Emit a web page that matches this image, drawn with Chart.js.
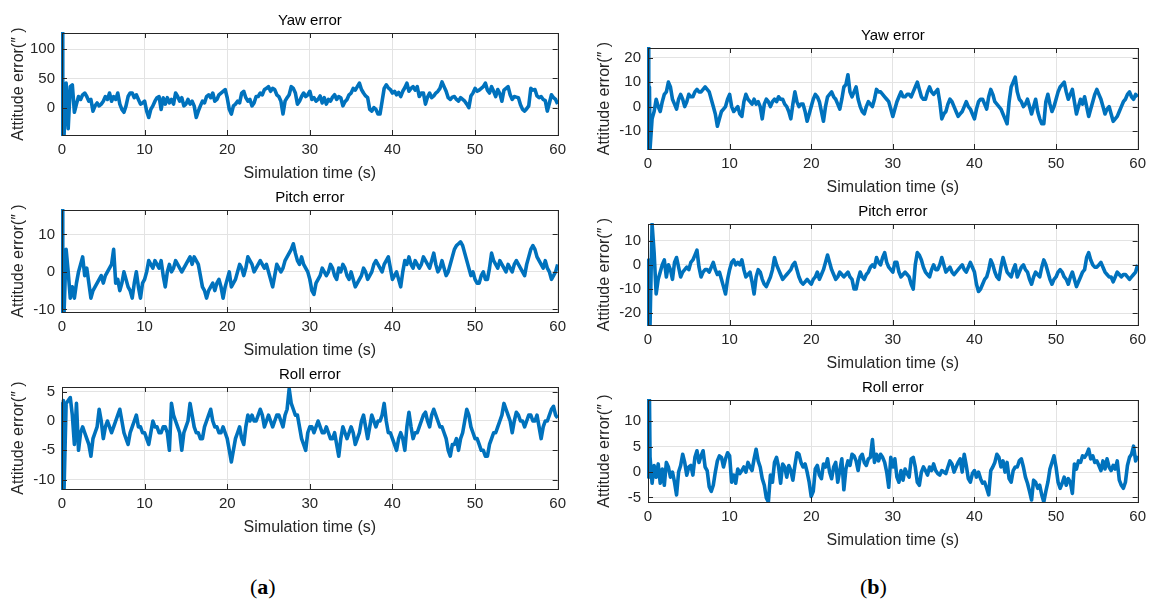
<!DOCTYPE html>
<html lang="en">
<head>
<meta charset="UTF-8">
<title>Attitude errors</title>
<script src="https://cdn.jsdelivr.net/npm/chart.js"></script>
<style>
  body { margin: 0; background: #fff; width: 1155px; height: 602px; position: relative; overflow: hidden; }
  canvas { position: absolute; }
  .cap { position: absolute; top: 574px; font-family: "Liberation Serif", "DejaVu Serif", serif; font-size: 22px; color: #000; }
</style>
</head>
<body>
<canvas id="yawA"></canvas>
<canvas id="pitchA"></canvas>
<canvas id="rollA"></canvas>
<canvas id="yawB"></canvas>
<canvas id="pitchB"></canvas>
<canvas id="rollB"></canvas>
<div class="cap" style="left:250px">(<b>a</b>)</div>
<div class="cap" style="left:860px">(<b>b</b>)</div>
<script>
// time axis: start-up points [t, value] for t < 0.25 s, then one sample every DT from T0 (20 per row = 5 s)
const T0 = 0.25, DT = 0.25;
const xTicks = [0, 10, 20, 30, 40, 50, 60];

// (a) yaw error
const yawAStart = [[0, -20], [0.06, 128], [0.12, -47], [0.18, 40]];
const yawAVals = [
  -47, 42, -36, 36, 39, -8, 6, 19, 14, 22, 25, 19, 11, 14, -6, 3, 8, 3, 6, 11,
  19, 14, 25, 11, 19, 14, 25, 6, -3, -8, 3, 19, 25, 25, 17, 22, 14, 6, 8, 11,
  -6, -17, -3, 3, 11, 17, 19, -3, 17, 6, 17, 8, 14, 6, 25, 19, 11, 17, 3, 6,
  14, 6, 11, 3, -17, -6, 3, 11, 8, 19, 22, 17, 25, 11, 14, 22, 25, 28, 31, 17,
  -3, -11, 3, 6, 11, 8, 25, 28, 17, 11, 14, 3, 8, 19, 19, 25, 22, 31, 33, 36,
  28, 33, 31, 22, 19, 11, -11, 11, 17, 22, 36, 33, 25, 6, 11, 19, 25, 19, 22, 28,
  14, 17, 11, 14, 20, 8, 17, 6, 14, 11, 18, 22, 14, 19, 17, 3, 10, 14, 22, 25,
  33, 30, 36, 42, 31, 25, 20, 17, -3, -6, 0, -3, -11, -11, 11, 33, 39, 34, 31, 25,
  28, 22, 26, 19, 28, 34, 42, 28, 33, 36, 30, 36, 19, 25, 25, 6, 18, 25, 17, 20,
  25, 28, 33, 44, 36, 28, 17, 14, 18, 19, 14, 11, 17, 14, 11, 6, 0, 20, 25, 33,
  28, 30, 33, 36, 42, 30, 25, 36, 28, 19, 31, 24, 11, 30, 33, 36, 22, 14, 19, 18,
  17, 5, -3, -6, -2, 3, 33, 30, 31, 20, 17, 19, 14, 12, -6, 8, 22, 17, 14, 6
];
const yawATicks = [0, 50, 100];

// (a) pitch error
const pitchAStart = [[0, 0], [0.06, 16.5], [0.12, -10.7], [0.18, 4]];
const pitchAVals = [
  -10.7, 6, 0, -7, -4, -7, -3, 0, 2, 4, -1, 1, -3, -7, -5, -4, -3, -2, -1, -3,
  -1, 0, 1, 2, 6, -3, -2, -5, -3, 0, -2, -4, -5, -7, -3, 0, -4, -7, -3, -2,
  0, 3, 2, 1, 3, 2, 1, 3, -1, -4, 0, 2, 0, 1, 3, 2, 1, 0, 1, 2,
  3, 4, 2, 4, 3, 2, -1, -4, -5, -7, -5, -4, -3, -5, -3, -2, -4, -7, -4, -2,
  0, -4, -3, -2, 0, 2, 1, -1, 1, 4, 3, 2, 0, 1, 2, 3, 2, 1, 2, 0,
  -2, -4, -1, 2, 1, 0, 1, 3, 4, 5, 6, 7.5, 5, 3, 2, 4, 2, 1, 0, -2,
  -5, -6, -3, -2, -1, 1, 0, -1, 0, 2, 1, -1, -2, 1, 0, 2, 1, -1, -2, 0,
  -2, -4, -3, -2, -1, 1, 0, -2, -1, 0, 2, 3, 2, 1, 0, 2, 3, 4, 1, -2,
  -1, 0, -2, -4, 0, 3, 2, 4, 2, 1, 3, 2, 1, 2, 4, 3, 2, 1, 3, 5,
  2, 0, 1, 3, 1, -1, 0, 2, 4, 6, 7, 7.5, 8, 7, 5, 3, 1, -1, 0, -2,
  -3, -3, -1, 0, -2, -2, 1, 5, 3, 2, 1, 3, 2, 1, 0, 2, 1, 0, 2, 3,
  2, 1, 0, -1, 2, 4, 6, 7, 6, 4, 3, 2, 1, 3, 1, 0, -2, -1, 0, 2
];
const pitchATicks = [-10, 0, 10];

// (a) roll error
const rollAStart = [[0, 0], [0.05, 3], [0.1, -11.6], [0.17, 3.5]];
const rollAVals = [
  -11.6, 3, 3.5, 4, 1, -4, 3, -5, -2, -1, -2, -3, -4, -6, -3, -2, -1, 2, 0, -3,
  -1, 0, -1, -2, -1, 0, 1, 2, 0, -2, -3, -4, -2, -1, 0, 1, -1, -1, -2, -2,
  -3, -4, -2, 0, -1, -1, -2, -2, -1, -1, -2, -5, 3, 1, 0, -1, -2, -5, -2, -1,
  0, 3, 1, -1, -2, -2, -3, -3, -1, 0, 1, 2, 0, -1, -1, -2, -2, -1, -2, -3,
  -5, -7, -5, -3, -2, -1, -3, -4, -1, 1, 0, 1, 0, 0, 1, 2, 1, -1, 0, 1,
  0, -1, 0, 1, 1, 0, -1, 1, 2, 5.5, 3, 2, 1, 1, -1, -3, -4, -5, -2, -1,
  -1, -2, -1, 0, -1, -2, -2, -1, -2, -3, -3, -2, -4, -6, -3, -1, -2, -3, -2, -1,
  -2, -4, -3, -2, 0, 1, -1, -3, -1, 1, 0, -1, 0, 0, 1, 3, 0, -2, -2, -3,
  -4, -5, -3, -2, -3, -5, -1, 1.5, -1, -3, -2, -2, -1, 0, 1, 1.5, 0, -1, 1, 2,
  1, 0, -1, -1, -2, -3, -5, -6, -4, -4, -3, -5, -3, -2, 0, 2, 1, -1, -2, -3,
  -3, -4, -5, -5, -6, -6, -4, -3, -2, -2, -1, 0, 1, 3, 2, 1, 0, -2, 0, 1.5,
  1, 0, 0, -1, 0, 1, 1, 0, 0, 1, -1, -3, -1, 0, 0, 1, 2, 2.5, 1, 0.5
];
const rollATicks = [-10, -5, 0, 5];

// (b) yaw error
const yawBStart = [[0, 0], [0.06, 23.9], [0.12, -17.3], [0.18, 8]];
const yawBVals = [
  -17.3, -5, -2, 3, 0, -2, 2, 5, 6, 10, 8, 3, 1, -1, 3, 5, 3, 0, 2, 5,
  4, 4, 6, 7, 6, 6, 7, 8, 7, 6, 3, 0, -3, -8, -5, -2, -1, 0, 3, 5,
  0, -2, -1, 0, -3, -4, 2, 5, 3, 2, 1, 3, 1, 2, 0, -5, 1, 3, 2, 0,
  2, 3, 2, 4, 3, 3, 1, 0, -2, -5, 1, 6, 2, 0, 1, 1, -2, -6, -3, 0,
  3, 5, 4, 2, -2, -6, 0, 4, 5, 6, 4, 3, 1, -1, 3, 8, 9, 13, 6, 4,
  6, 8, 3, 0, -2, -3, 0, 2, 1, 0, 3, 7, 6, 6, 5, 4, 3, 2, -1, -4,
  -1, 2, 4, 6, 4, 4, 5, 5, 4, 6, 8, 10, 7, 4, 3, 3, 6, 8, 6, 5,
  6, 7, 2, -5, -3, -2, 1, 3, 2, 0, -2, -4, -3, -2, 0, 2, 0, -1, -3, -5,
  -1, 2, 3, 3, 1, -1, 4, 7, 5, 2, 1, 0, -1, -3, -5, -7, 2, 8, 10, 12,
  6, 3, 2, 0, 1, 3, 0, -3, 0, 3, -2, -5, -7, -7, 2, 5, 1, -2, 0, 3,
  6, 8, 9, 10, 6, 3, 5, 7, 2, -3, 0, 3, 1, 4, 0, -4, -1, 2, 5, 7,
  5, 3, 0, -3, -1, 0, -3, -6, -5, -4, -2, 0, 2, 3, 5, 6, 4, 3, 5, 4
];
const yawBTicks = [-10, 0, 10, 20];

// (b) pitch error
const pitchBStart = [[0, 2], [0.06, -24.8], [0.12, 0], [0.18, -24.8]];
const pitchBVals = [
  -24.8, 16.8, 5, -12, -6, -3, 0, 2, -5, 0, -2, -6, 1, 3, -1, -5, -3, -2, -1, -2,
  1, 2, 4, 6, -1, -5, -3, -2, -2, -3, -1, 1, -2, -4, -3, -6, -9, -12, -6, -2,
  1, 2, 0, 1, 0, 2, -2, -5, -4, -3, -7, -12, -5, -2, -3, -6, -8, -9, -7, -5,
  -2, 3, 0, -2, -4, -6, -5, -4, -3, -2, 0, 1, -2, -5, -7, -8, -7, -6, -7, -8,
  -6, -5, -3, -6, -4, -2, 1, 4, 1, -2, -4, -6, -5, -3, -4, -5, -4, -3, -5, -6,
  -10, -10, -6, -3, -5, -6, -4, -3, -1, 0, -1, 3, 1, 0, 3, 5, 1, -1, -2, -3,
  1, 1, -3, -5, -4, -3, -4, -5, -8, -10, 0, 5, 4, 2, -1, -3, -4, -5, -2, 0,
  -2, -2, 0, 3, 0, -3, -2, -1, -3, -4, -3, -2, -1, 0, -2, -3, -1, 1, -1, -3,
  -8, -11, -10, -8, -6, -5, -2, 2, 0, -3, -5, -6, -1, 3, 0, -3, -4, -5, -2, 0,
  -5, -3, -1, 0, -2, -3, -6, -8, -5, -3, -4, -5, -1, 2, 0, -3, -6, -8, -6, -5,
  -3, -2, -3, -5, -6, -8, -5, -3, -6, -9, -7, -5, -3, -2, 3, 5, 2, 0, -1, -1,
  0, 1, -1, -3, -4, -5, -5, -7, -5, -3, -4, -5, -4, -4, -5, -6, -5, -4, -3, 0
];
const pitchBTicks = [-20, -10, 0, 10];

// (b) roll error
const rollBStart = [[0, 0], [0.06, 14.2], [0.12, -1], [0.18, 14.2]];
const rollBVals = [
  3, -2.2, 1.3, -1, 1.6, -2.2, 0.6, -2.6, 1.9, 1, -1, 0, -2, -4.5, 0, 1.3, 3.5, 1.9, -0.6, 1,
  1.3, -0.6, 2.9, 4.2, 1.9, 3.2, 4.2, 1, 0.3, -2.9, -3.8, -2.6, 0, 2.2, 3.2, 2.9, 1, 2.6, 3.8, 3.2,
  -2, -0.6, -2.2, 0.6, -0.3, 0.3, 1, 0, 1.9, 1, 0.3, 2.6, 4.5, 2.2, 1, -1.3, -2.6, -5.1, -5.9, -0.6,
  -2, 1.9, 2.9, 1, -2.2, 1.6, 1, -1, 1.3, 0.3, -1.6, 1.3, 3.8, 3.5, 1.9, 1, 1.6, 0, -2, -4.8,
  -3.8, 0.6, 1.3, -0.6, -1.3, 1.6, 1, 2.6, 0, -1.3, 1, 1.9, -2, 0.3, 2.6, -3.5, 0.6, 2.2, 1.3, 3.5,
  3.2, 2.2, 0.3, 2.9, 3.5, 1.9, 1.3, 2.6, 2.9, 6.4, 1.9, 3.5, 2.2, 3.5, 2.9, 1.9, 0, -3, 2.9, 1,
  2.6, -1, -2, 0.3, -1.6, 0.6, -0.3, -1, 2.6, 2.9, 1, -2, -2.6, 0, 1, 0.3, -0.6, 1, 0.3, 1.6,
  0.3, -0.3, -0.6, 0.3, 0, -0.3, 1, 2.2, 1.6, 0, 1, 1.9, 2.6, 0, 3.5, 1.3, -1.3, -2, -0.3, 0.3,
  -1, 0, -1.3, -2.2, -2, -3.2, -4.5, 0.3, 1, 1.9, 3.5, 2.9, 1, 2.2, 0, 1.9, -1.3, -2, 0.3, 1,
  1, 2.2, 2.6, 1, -1, -2.2, -3.8, -5.5, -1.6, -2, -3.2, -2.6, -4.5, -5.9, -3.8, -2, 0.6, 1.9, 3.2, 1,
  -2, -3.2, -2.2, -1, -2.6, -1.3, -2, -4.2, 1.6, 0.6, 2.2, 1.9, 3.2, 2.9, 3.5, 4.5, 2.6, 3.2, 1.9, 2.2,
  1.3, 0.3, 2.2, 0.6, 2.6, 1, 0.3, 1.3, 0.6, 2.2, -1.6, -2.6, -3.2, -2, 1.3, 2.9, 3.5, 5.1, 2.2, 3.2
];
const rollBTicks = [-5, 0, 5, 10];

const panels = [
  { id: 'yawA', title: 'Yaw error', start: yawAStart, vals: yawAVals, ticks: yawATicks, min: -47, max: 128, left: 0, top: 12, width: 572, height: 171 },
  { id: 'pitchA', title: 'Pitch error', start: pitchAStart, vals: pitchAVals, ticks: pitchATicks, min: -10.7, max: 16.5, left: 0, top: 189, width: 572, height: 171 },
  { id: 'rollA', title: 'Roll error', start: rollAStart, vals: rollAVals, ticks: rollATicks, min: -11.6, max: 5.8, left: 0, top: 366, width: 572, height: 171 },
  { id: 'yawB', title: 'Yaw error', start: yawBStart, vals: yawBVals, ticks: yawBTicks, min: -17.3, max: 23.9, left: 586, top: 27, width: 566, height: 170 },
  { id: 'pitchB', title: 'Pitch error', start: pitchBStart, vals: pitchBVals, ticks: pitchBTicks, min: -24.8, max: 16.8, left: 586, top: 203, width: 566, height: 170 },
  { id: 'rollB', title: 'Roll error', start: rollBStart, vals: rollBVals, ticks: rollBTicks, min: -5.9, max: 14.2, left: 586, top: 379, width: 566, height: 171 }
];

const FONT = 'Arial, "Liberation Sans", Helvetica, sans-serif';
const INK = '#262626';

// axes box with inward tick marks, drawn over the data like MATLAB does
const boxPlugin = {
  id: 'box',
  afterDatasetsDraw(chart) {
    const { ctx, chartArea: a, scales } = chart;
    ctx.save();
    ctx.strokeStyle = INK;
    ctx.lineWidth = 1;
    ctx.beginPath();
    scales.y.ticks.forEach(t => {
      const y = Math.round(scales.y.getPixelForValue(t.value)) + 0.5;
      ctx.moveTo(a.left, y); ctx.lineTo(a.left + 5, y);
      ctx.moveTo(a.right, y); ctx.lineTo(a.right - 5, y);
    });
    scales.x.ticks.forEach(t => {
      const x = Math.round(scales.x.getPixelForValue(t.value)) + 0.5;
      ctx.moveTo(x, a.bottom); ctx.lineTo(x, a.bottom - 5);
      ctx.moveTo(x, a.top); ctx.lineTo(x, a.top + 5);
    });
    ctx.stroke();
    ctx.strokeRect(Math.round(a.left) + 0.5, Math.round(a.top) + 0.5, Math.round(a.right - a.left), Math.round(a.bottom - a.top));
    ctx.restore();
  }
};

panels.forEach(p => {
  const cv = document.getElementById(p.id);
  cv.width = p.width;
  cv.height = p.height;
  cv.style.left = p.left + 'px';
  cv.style.top = p.top + 'px';

  const pts = p.start.map(([t, v]) => ({ x: t, y: v }))
    .concat(p.vals.map((v, i) => ({ x: T0 + i * DT, y: v })));

  new Chart(cv, {
    type: 'line',
    data: {
      datasets: [{
        data: pts,
        borderColor: '#0072BD',
        borderWidth: 3.6,
        borderJoinStyle: 'round',
        pointRadius: 0,
        tension: 0,
        clip: 1
      }]
    },
    options: {
      responsive: false,
      animation: false,
      devicePixelRatio: 1,
      layout: { padding: { left: 0, right: 12, top: 0, bottom: 0 } },
      plugins: {
        legend: { display: false },
        tooltip: { enabled: false },
        title: {
          display: true,
          text: p.title,
          fullSize: false,
          color: '#000',
          font: { family: FONT, size: 15, weight: 'normal' },
          padding: { top: 0, bottom: 3 }
        }
      },
      scales: {
        x: {
          type: 'linear',
          min: 0,
          max: 60,
          afterBuildTicks: s => { s.ticks = xTicks.map(v => ({ value: v })); },
          afterFit: s => { s.height = 48; },
          grid: { color: '#e3e3e3', drawTicks: false },
          border: { display: false },
          ticks: { color: INK, padding: 6, maxRotation: 0, font: { family: FONT, size: 15 }, callback: v => String(v) },
          title: { display: true, text: 'Simulation time (s)', color: INK, padding: { top: 0, bottom: 0 }, font: { family: FONT, size: 16 } }
        },
        y: {
          min: p.min,
          max: p.max,
          afterBuildTicks: s => { s.ticks = p.ticks.map(v => ({ value: v })); },
          afterFit: s => { s.width = 62; },
          grid: { color: '#e3e3e3', drawTicks: false },
          border: { display: false },
          ticks: { color: INK, padding: 7, font: { family: FONT, size: 15 }, callback: v => String(v) },
          title: { display: true, text: 'Attitude error(\u2033 )', color: INK, padding: { top: 9, bottom: 0 }, font: { family: FONT, size: 16 } }
        }
      }
    },
    plugins: [boxPlugin]
  });
});
</script>
</body>
</html>
